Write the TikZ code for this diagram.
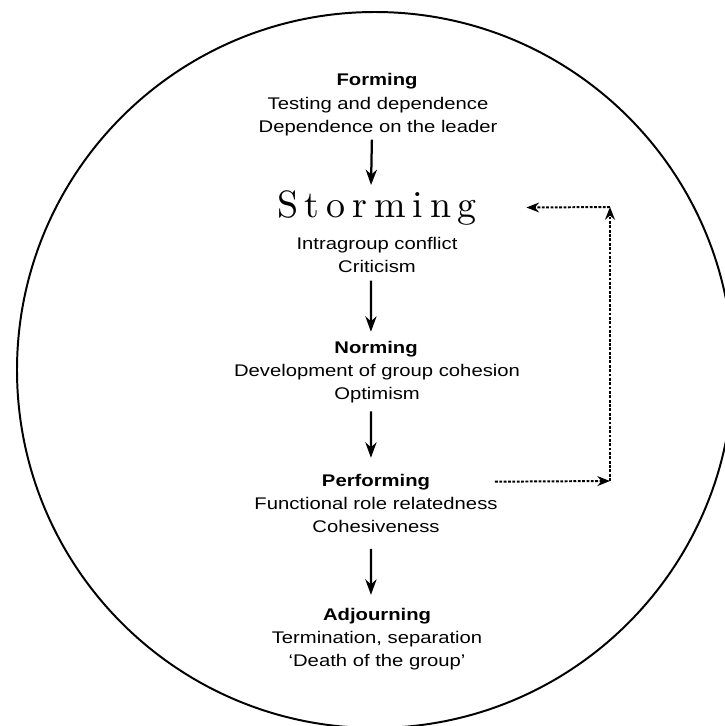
\documentclass[tikz,border=0pt]{standalone}
\usepackage{fontspec}
\setsansfont{Liberation Sans}[FakeStretch=1.2]
\newfontfamily\stormfont{lmroman10-regular}[Extension=.otf,LetterSpace=18]
\usetikzlibrary{arrows.meta}

\begin{document}
\begin{tikzpicture}[x=0.025cm, y=-0.025cm,
        head/.style={font=\sffamily\bfseries\fontsize{12}{16.4}\selectfont, inner sep=0pt, anchor=base},
        txt/.style={font=\sffamily\fontsize{12}{16.4}\selectfont, inner sep=0pt, anchor=north, align=center},
        flow/.style={line width=1.6pt, -{Stealth[length=11pt,width=8pt]}},
        back/.style={line width=1.4pt, dash pattern=on 2pt off 1.1pt, -{Stealth[length=9pt,width=7pt]}}]
                \clip (0,0) rectangle (725,726);
                \draw[line width=1.4pt](375,370) circle (358);
                \node[head] (form) at (377,85) {Forming};
                \node[txt] (formtxt) at (378,96.7) {Testing and dependence\\Dependence on the leader};
                \node[inner sep=0pt, anchor=base, font=\stormfont\fontsize{27}{30}\selectfont] (storm) at (377,217) {Storming};
                \node[txt] (stormtxt) at (377,236.7) {Intragroup conflict\\Criticism};
                \node[head] (norm) at (376,353) {Norming};
                \node[txt] (normtxt) at (377,363.7) {Development of group cohesion\\Optimism};
                \node[head] (perf) at (376,486) {Performing};
                \node[txt] (perftxt) at (376,496.7) {Functional role relatedness\\Cohesiveness};
                \node[head] (adj) at (377,620) {Adjourning};
                \node[txt] (adjtxt) at (377,630.7) {Termination, separation\\`Death of the group'};
                \coordinate (turn) at (610,481);
                \coordinate (top) at (610,207);
                \draw[flow, shorten <=2.5pt, shorten >=3.5pt]([xshift=-4.3pt]formtxt.south)--([xshift=-4.3pt]storm.north);
                \draw[flow, shorten <=5.7pt, shorten >=6.2pt]([xshift=-4.3pt]stormtxt.south)--([xshift=-3.6pt]norm.north);
                \draw[flow, shorten <=6pt, shorten >=11.2pt]([xshift=-4.3pt]normtxt.south)--([xshift=-3.6pt]perf.north);
                \draw[flow, shorten <=11.4pt, shorten >=9pt]([xshift=-3.6pt]perftxt.south)--([xshift=-4.3pt]adj.north);
                \draw[back]([xshift=46pt]perf.east)--(turn);
                \draw[back](turn)--(top);
                \draw[back](top)--([xshift=35pt]storm.east);
            \end{tikzpicture}
\end{document}
